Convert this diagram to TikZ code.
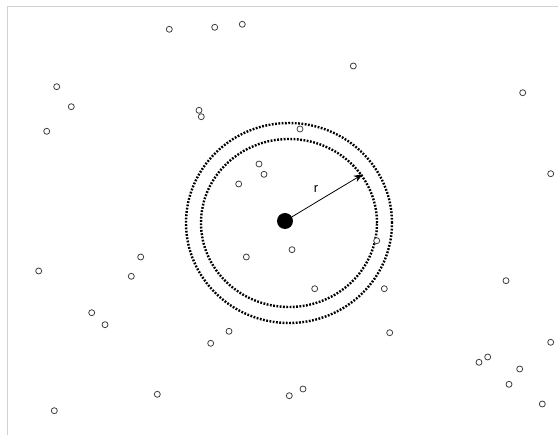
\documentclass[tikz,border=0pt]{standalone}
\usepackage{fontspec}
\setsansfont{Liberation Sans}
\usetikzlibrary{arrows.meta}
\tikzset{
  every picture/.style={line join=round, >=Stealth},
  particle/.style={circle, draw=black!75, line width=0.8pt, fill=white, minimum size=6pt, inner sep=0pt},
  centre/.style={circle, fill=black, minimum size=16pt, inner sep=0pt},
  ring/.style={line width=2.4pt, dash pattern=on 1.8pt off 1.5pt},
  frame/.style={draw=black!18, line width=1pt},
}

\begin{document}
\begin{tikzpicture}[x=1pt,y=-1pt]
\useasboundingbox (0,0) rectangle (558,435);
\draw[frame](7,435)--(7,7)--(558,7);
% shells
\draw[ring](289,223) ellipse[x radius=88pt, y radius=84pt];
\draw[ring](289,223) ellipse[x radius=103pt, y radius=100pt];
% particles
\foreach \x/\y [count=\i] in {169.3/29.3, 214.7/27.3, 242.3/24.3, 56.7/86.7, 71.3/106.7, 46.7/131.3,
  199/110.3, 201.3/116.7, 259/164, 264/174.3, 238.7/184, 353.3/66, 522.7/92.7, 300/129, 550.7/173.7,
  140.7/257, 246.3/257, 38.7/271, 131.3/276.3, 91.7/312.7, 105/324.7, 229/331.3, 210.7/343.3,
  157.3/394.3, 54.3/410.7, 292/249.7, 376.7/240.7, 314.7/288.7, 384.3/288.7, 506/280.7,
  389.7/332.7, 550.7/342.3, 487.7/357, 479/362.3, 519.7/369, 509/384.3, 542.3/404, 303/389, 289.3/395.7}
  \node[particle](p\i) at (\x,\y) {};
\node[centre](c) at (285,221) {};
\coordinate (rim) at (362.7,174.3);
\draw[-{Stealth[length=9pt,width=7pt]}, line width=0.8pt](c)--(rim);
\node[font=\sffamily\fontsize{13}{15}\selectfont](r) at (316,189) {r};
\end{tikzpicture}
\end{document}
